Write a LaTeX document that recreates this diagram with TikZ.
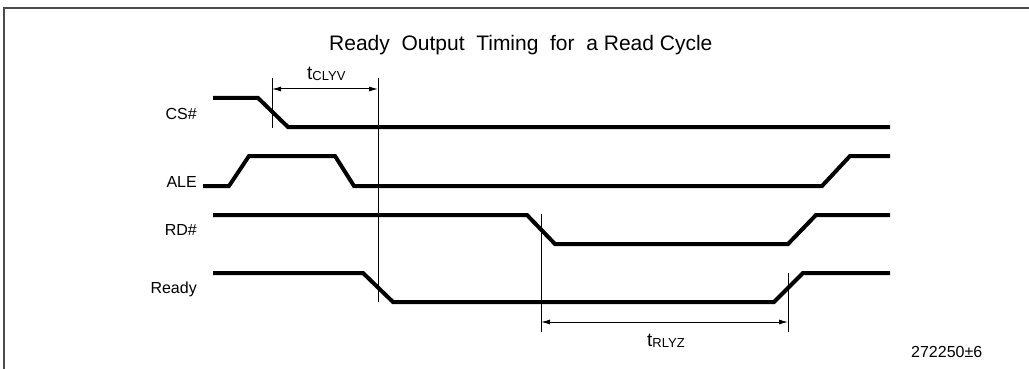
\documentclass[tikz,border=0pt]{standalone}
\usepackage{fontspec}
\setmainfont{Liberation Sans}
\usetikzlibrary{arrows.meta}
\newcommand\tsub[1]{{\fontsize{19}{19}\selectfont t}\raisebox{-1pt}{\fontsize{13}{13}\selectfont #1}}
\newcommand\sigfont{\fontsize{16}{16}\selectfont}

\begin{document}
\begin{tikzpicture}[x=1pt,y=-1pt,
  signal/.style={line width=4pt},
  guide/.style={line width=1pt},
  dim/.style={line width=1pt,{Latex[length=9pt,width=5pt]}-{Latex[length=9pt,width=5pt]}},
  siglabel/.style={anchor=base east,inner sep=0pt,font=\sigfont},
  frameline/.style={line width=1.5pt,black!70}]
\useasboundingbox (0,0) rectangle (1029,369);
\draw[frameline] (4,369) -- (4,8) -- (1029,8);
\node[anchor=base west,inner sep=0pt,font=\fontsize{21}{21}\selectfont] (title) at (329,51)
  {Ready\ \ Output\ \ Timing\ \ for\ \ a Read Cycle};
\node[siglabel] (cs) at (197,120) {CS\#};
\node[siglabel] (ale) at (197,187) {ALE};
\node[siglabel] (rd) at (197,235) {RD\#};
\node[siglabel] (ready) at (197,293) {Ready};
\draw[signal] (213,98) -- (258,98) -- (288,127) -- (890,127);
\draw[signal] (203,186) -- (229,186) -- (249,156) -- (335,156) -- (354,186)
  -- (822,186) -- (850,156) -- (890,156);
\draw[signal] (213,215) -- (527,215) -- (555,244) -- (788,244) -- (816,215) -- (890,215);
\draw[signal] (213,273) -- (363,273) -- (393,302) -- (774,302) -- (803,273) -- (890,273);
\coordinate (csTop) at (272,78);
\coordinate (csBot) at (272,128);
\coordinate (rdyTop) at (378,78);
\coordinate (rdyBot) at (378,302);
\coordinate (rdTop) at (541,214);
\coordinate (rdBot) at (541,332);
\coordinate (rdyzTop) at (788,273);
\coordinate (rdyzBot) at (788,332);
\draw[guide] (csTop) -- (csBot);
\draw[guide] (rdyTop) -- (rdyBot);
\draw[guide] (rdTop) -- (rdBot);
\draw[guide] (rdyzTop) -- (rdyzBot);
\coordinate (clyvL) at (272,89);
\coordinate (clyvR) at (378,89);
\coordinate (rlyzL) at (541,322);
\coordinate (rlyzR) at (788,322);
\draw[dim] (clyvL) -- (clyvR);
\draw[dim] (rlyzL) -- (rlyzR);
\node[anchor=base west,inner sep=0pt] (tclyv) at (307,80) {\tsub{CLYV}};
\node[anchor=base west,inner sep=0pt] (trlyz) at (647,346) {\tsub{RLYZ}};
\node[anchor=base west,inner sep=0pt,font=\sigfont] (fig) at (911,357) {272250±6};
\end{tikzpicture}
\end{document}
